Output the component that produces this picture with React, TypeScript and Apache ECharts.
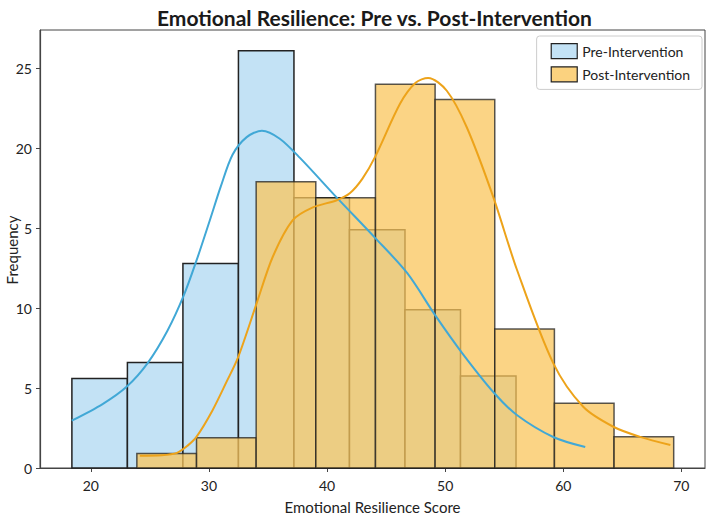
import React, { useEffect, useRef } from "react";
import * as echarts from "echarts";

const preEdges = [18.4, 23.1, 27.8, 32.5, 37.2, 41.9, 46.6, 51.3, 56.0];
const preCounts = [5.6, 6.6, 12.8, 26.1, 16.9, 14.9, 9.9, 5.75];
const postEdges = [23.9, 28.95, 34.0, 39.05, 44.1, 49.15, 54.2, 59.25, 64.3, 69.35];
const postCounts = [0.9, 1.9, 17.9, 16.9, 24.0, 23.05, 8.7, 4.05, 1.95];

const preKde: [number, number][] = [
  [18.39, 2.96], [21.0, 4.0], [23.03, 5.08], [24.83, 6.58], [26.5, 8.6], [27.88, 10.81],
  [28.96, 13.0], [30.08, 15.5], [31.0, 17.6], [32.0, 19.6], [33.2, 20.7], [34.49, 21.1],
  [36.0, 20.6], [37.71, 19.4], [40.85, 16.9], [44.07, 14.4], [46.78, 12.2],
  [49.15, 9.56], [51.44, 7.19], [54.15, 4.69], [56.1, 3.3], [59.15, 1.94], [61.86, 1.31],
];
const postKde: [number, number][] = [
  [24.15, 0.77], [26.0, 0.8], [27.3, 0.95], [28.2, 1.4], [28.96, 1.96], [30.3, 3.6],
  [31.5, 5.4], [32.46, 6.9], [34.04, 10.3], [35.4, 13.2], [37.1, 15.5], [38.8, 16.3],
  [40.82, 16.75], [41.95, 17.2], [43.0, 18.1], [44.07, 19.46], [46.19, 22.8],
  [47.5, 24.1], [48.56, 24.4], [50.14, 23.6], [51.84, 21.3], [54.07, 16.96], [56.08, 12.4],
  [59.15, 6.56], [61.69, 3.83], [64.24, 2.58], [66.5, 1.95], [69.07, 1.44],
];

const yTickLabels = ["0", "5", "10", "5", "20", "25"];
const xTicks = [20, 30, 40, 50, 60, 70];

const preFill = "#c3e2f5";
const postFill = "#f9c55c";
const edge = "#222222";

function histData(edges: number[], counts: number[]) {
  return counts.map((c, i) => [edges[i], edges[i + 1], c]);
}

function makeRender(fill: string, opacity: number) {
  return (params: any, api: any) => {
    const x0 = api.value(0);
    const x1 = api.value(1);
    const h = api.value(2);
    const p0 = api.coord([x0, h]);
    const p1 = api.coord([x1, 0]);
    return {
      type: "rect",
      shape: { x: p0[0], y: p0[1], width: p1[0] - p0[0], height: p1[1] - p0[1] },
      style: { fill, opacity, stroke: edge, lineWidth: 1.5 },
    };
  };
}

export default function App() {
  const ref = useRef<HTMLDivElement>(null);
  useEffect(() => {
    if (!ref.current) return;
    const chart = echarts.init(ref.current, undefined, { renderer: "svg" });
    chart.setOption({
      animation: false,
      title: {
        text: "Emotional Resilience: Pre vs. Post-Intervention",
        left: 152,
        top: 2,
        textStyle: { fontFamily: "Lato", fontWeight: "bold", fontSize: 21, color: "#1a1a1a" },
      },
      graphic: [
        {
          type: "text",
          x: 12,
          y: 250,
          rotation: Math.PI / 2,
          style: {
            text: "Frequency",
            fontFamily: "Lato",
            fontSize: 15,
            fill: "#222",
            align: "center",
            verticalAlign: "middle",
          },
        },
      ],
      legend: {
        right: 6,
        top: 36,
        orient: "vertical",
        itemWidth: 26,
        itemHeight: 15,
        itemGap: 7,
        padding: [7, 12, 7, 14],
        backgroundColor: "#ffffff",
        borderColor: "#cccccc",
        borderWidth: 1,
        borderRadius: 3,
        textStyle: { fontFamily: "Lato", fontSize: 14, color: "#222" },
        data: [
          { name: "Pre-Intervention", icon: "rect", itemStyle: { color: preFill, borderColor: edge, borderWidth: 1.2 } },
          { name: "Post-Intervention", icon: "rect", itemStyle: { color: "#fbd27f", borderColor: edge, borderWidth: 1.2 } },
        ],
      },
      grid: {
        left: 40,
        right: 3,
        top: 30,
        bottom: 48,
        containLabel: false,
        outerBoundsMode: "none",
        show: true,
        borderColor: "#444",
        borderWidth: 1,
      },
      xAxis: {
        type: "value",
        min: 15.7,
        max: 72,
        name: "Emotional Resilience Score",
        nameLocation: "middle",
        nameGap: 31,
        nameMoveOverlap: false,
        nameTextStyle: { fontFamily: "Lato", fontSize: 15, color: "#222" },
        splitLine: { show: false },
        axisLine: { lineStyle: { color: "#444", width: 1.2 } },
        axisTick: { show: true, length: 4, lineStyle: { color: "#444" }, customValues: xTicks },
        axisLabel: { fontFamily: "Lato", fontSize: 14, color: "#222", margin: 10, customValues: xTicks },
      },
      yAxis: {
        type: "value",
        min: 0,
        max: 27.4,
        interval: 5,
        splitLine: { show: false },
        axisLine: { show: true, lineStyle: { color: "#444", width: 1.2 } },
        axisTick: { show: true, length: 4, lineStyle: { color: "#444" } },
        axisLabel: {
          fontFamily: "Lato",
          fontSize: 14,
          color: "#222",
          margin: 8,
          showMaxLabel: false,
          formatter: (v: number) => (Math.abs(v % 5) < 1e-6 ? yTickLabels[Math.round(v / 5)] ?? "" : ""),
        },
      },
      series: [
        {
          name: "Pre-Intervention",
          type: "custom",
          renderItem: makeRender(preFill, 1),
          encode: { x: [0, 1], y: 2 },
          itemStyle: { color: preFill },
          data: histData(preEdges, preCounts),
          z: 1,
        },
        {
          name: "Post-Intervention",
          type: "custom",
          renderItem: makeRender(postFill, 0.75),
          encode: { x: [0, 1], y: 2 },
          itemStyle: { color: "#fbd27f" },
          data: histData(postEdges, postCounts),
          z: 2,
        },
        {
          name: "Pre KDE",
          type: "line",
          smooth: 0.3,
          showSymbol: false,
          lineStyle: { color: "#41a8d6", width: 2 },
          data: preKde,
          z: 3,
        },
        {
          name: "Post KDE",
          type: "line",
          smooth: 0.3,
          showSymbol: false,
          lineStyle: { color: "#eda31a", width: 2 },
          data: postKde,
          z: 4,
        },
      ],
    });
    return () => chart.dispose();
  }, []);
  return <div ref={ref} style={{ width: 708, height: 516, position: "absolute", left: 0, top: 0 }} />;
}
